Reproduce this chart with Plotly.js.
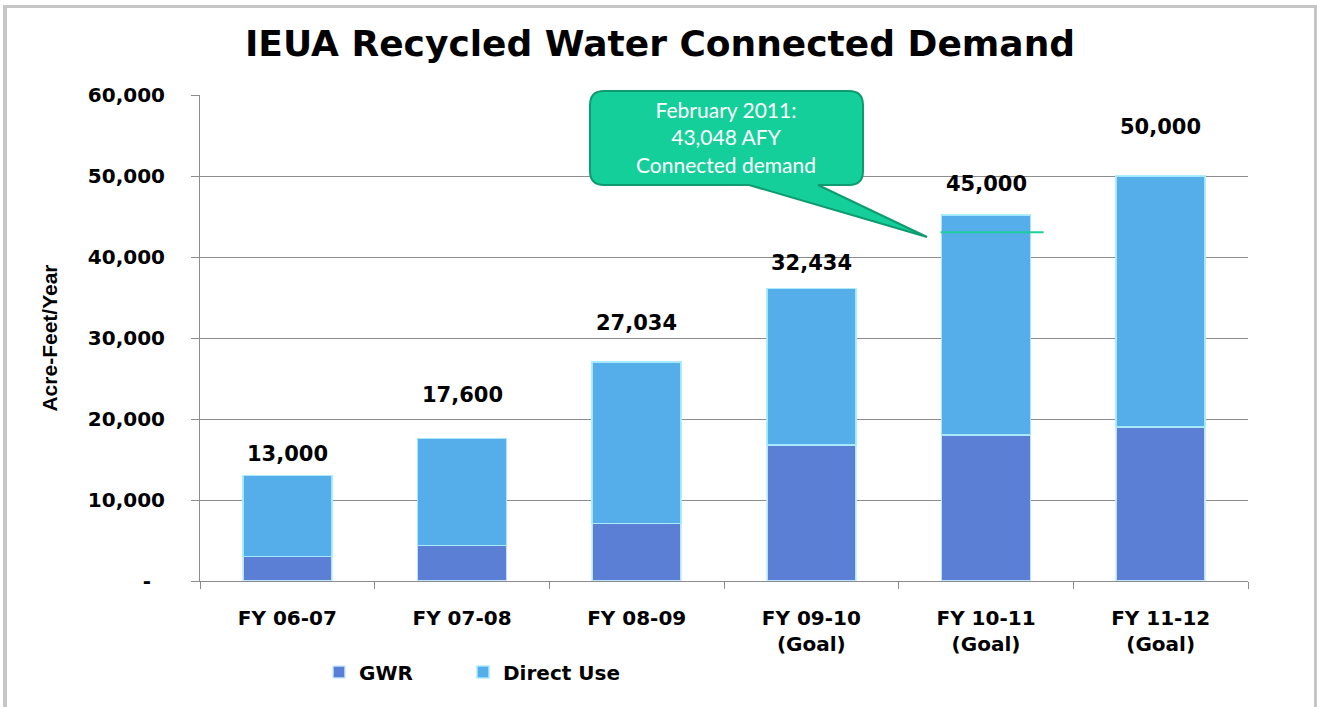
<!DOCTYPE html>
<html>
<head>
<meta charset="utf-8">
<script src="https://cdn.plot.ly/plotly-3.0.1.min.js"></script>
<style>
  html, body { margin: 0; padding: 0; background: #fff; }
  #chart { width: 1317px; height: 707px; }
  #frame {
    position: absolute; left: 3px; top: 5px; width: 1307px; height: 720px;
    border-left: 4px solid #c6c6c6; border-top: 3px solid #c6c6c6; border-right: 3px solid #c6c6c6;
    pointer-events: none;
  }
</style>
</head>
<body>
<div id="chart"></div>
<div id="frame"></div>
<script>
// categories and values
var years = ['FY 06-07', 'FY 07-08', 'FY 08-09', 'FY 09-10<br>(Goal)', 'FY 10-11<br>(Goal)', 'FY 11-12<br>(Goal)'];
var gwr = [3000, 4400, 7100, 16800, 18000, 19000];
var directUse = [10000, 13200, 19934, 19300, 27200, 31000];
var totalLabels = ['13,000', '17,600', '27,034', '32,434', '45,000', '50,000'];
var labelY = [15700, 23000, 31900, 39300, 49000, 56000];
var connectedDemand = 43048;
var yTicks = [0, 10000, 20000, 30000, 40000, 50000, 60000];
var yTickText = ['-\u00a0\u00a0', '10,000', '20,000', '30,000', '40,000', '50,000', '60,000'];

var tickFont = {family: 'DejaVu Sans, Verdana, sans-serif', size: 20, color: '#000', weight: 'bold'};

// plot area in page pixels, used for the callout drawn in paper coords
var L = 200, R = 1248, T = 95, B = 581;
function px(x) { return (x - L) / (R - L); }
function py(y) { return (B - y) / (B - T); }

var trace1 = {
  x: years,
  y: gwr,
  type: 'bar',
  name: 'GWR',
  legend: 'legend',
  showlegend: true,
  marker: {color: '#5c7fd6', line: {color: 'rgba(200,240,255,0.9)', width: 1.5}}
};

var trace2 = {
  x: years,
  y: directUse,
  type: 'bar',
  name: 'Direct Use',
  legend: 'legend2',
  showlegend: true,
  marker: {color: '#55ade9', line: {color: 'rgba(170,235,255,0.95)', width: 1.5}}
};

var annotations = years.map(function(c, i) {
  return {
    x: c, y: labelY[i], xref: 'x', yref: 'y',
    text: totalLabels[i], showarrow: false,
    font: {family: 'DejaVu Sans, Verdana, sans-serif', size: 21, color: '#000', weight: 'bold'}
  };
});

annotations.push({
  x: px(726), y: py(137), xref: 'paper', yref: 'paper', xanchor: 'center', yanchor: 'middle',
  text: 'February 2011:<br>43,048 AFY<br>Connected demand',
  showarrow: false,
  font: {family: 'Lato, Open Sans, sans-serif', size: 21, color: '#fff'}
});

// speech bubble outline
var pts = [
  ['M', 604, 91], ['L', 849, 91], ['Q', 863, 91, 863, 105], ['L', 863, 171], ['Q', 863, 185, 849, 185],
  ['L', 818, 185], ['L', 927, 237], ['L', 749, 185], ['L', 604, 185], ['Q', 590, 185, 590, 171],
  ['L', 590, 105], ['Q', 590, 91, 604, 91]
];
var bubble = pts.map(function(p) {
  var s = p[0];
  for (var k = 1; k < p.length; k += 2) s += ' ' + px(p[k]).toFixed(5) + ',' + py(p[k + 1]).toFixed(5);
  return s;
}).join(' ') + ' Z';

var legendFont = {family: 'DejaVu Sans, Verdana, sans-serif', size: 20, color: '#000', weight: 'bold'};

var layout = {
  width: 1317,
  height: 707,
  margin: {l: L, r: 1317 - R, t: T, b: 707 - B},
  paper_bgcolor: '#fff',
  plot_bgcolor: '#fff',
  barmode: 'stack',
  bargap: 0.49,
  showlegend: true,
  title: {
    text: 'IEUA Recycled Water Connected Demand',
    font: {family: 'DejaVu Sans, Verdana, sans-serif', size: 36, color: '#000', weight: 'bold'},
    x: 660 / 1317, xanchor: 'center', y: 1 - 43 / 707, yanchor: 'middle'
  },
  xaxis: {
    type: 'category',
    showline: true, linecolor: '#8c8c8c', linewidth: 1,
    ticks: 'outside', tickson: 'boundaries', ticklen: 7, tickcolor: '#8c8c8c',
    ticklabelstandoff: 19,
    tickfont: tickFont,
    showgrid: false
  },
  yaxis: {
    range: [0, 60000],
    tickvals: yTicks, ticktext: yTickText,
    showline: true, linecolor: '#8c8c8c', linewidth: 1,
    ticks: 'outside', ticklen: 8, tickcolor: '#8c8c8c',
    ticklabelstandoff: 22,
    tickfont: tickFont,
    gridcolor: '#8c8c8c', gridwidth: 1,
    zeroline: false,
    title: {
      text: 'Acre-Feet/Year',
      font: {family: 'Liberation Sans Narrow, Arial Narrow, sans-serif', size: 21, color: '#000', weight: 'bold'},
      standoff: 24
    }
  },
  legend: {
    orientation: 'h', x: px(319), xanchor: 'left', y: py(672), yanchor: 'middle',
    font: legendFont, bgcolor: 'rgba(0,0,0,0)'
  },
  legend2: {
    orientation: 'h', x: px(463), xanchor: 'left', y: py(672), yanchor: 'middle',
    font: legendFont, bgcolor: 'rgba(0,0,0,0)'
  },
  annotations: annotations,
  shapes: [
    {type: 'line', xref: 'x', yref: 'y', x0: 3.74, x1: 4.33, y0: connectedDemand, y1: connectedDemand,
     line: {color: '#1ccf9b', width: 2}},
    {type: 'path', xref: 'paper', yref: 'paper', path: bubble, layer: 'above',
     fillcolor: '#14cf9a', line: {color: '#0f9a70', width: 2}}
  ]
};

Plotly.newPlot('chart', [trace1, trace2], layout, {displayModeBar: false, staticPlot: true});
</script>
</body>
</html>
